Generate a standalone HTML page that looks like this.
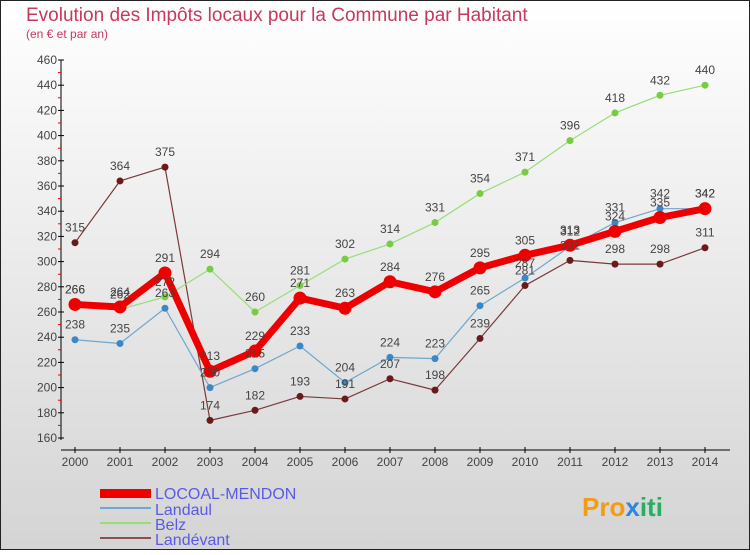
<!DOCTYPE html>
<html><head><meta charset="utf-8"><style>
body{margin:0;}
svg text{font-family:"Liberation Sans","DejaVu Sans",sans-serif;}
</style></head><body>
<svg width="750" height="550" xmlns="http://www.w3.org/2000/svg">
<defs><linearGradient id="bg" x1="0" y1="0" x2="0" y2="1"><stop offset="0" stop-color="#ffffff"/><stop offset="1" stop-color="#d4d4d4"/></linearGradient></defs>
<rect x="0.5" y="0.5" width="749" height="549" fill="url(#bg)" stroke="#222" stroke-width="1"/>
<text x="26" y="21" font-size="19" fill="#c8385c">Evolution des Impôts locaux pour la Commune par Habitant</text>
<text x="26" y="38" font-size="12" fill="#c8385c">(en € et par an)</text>
<g id="axes"></g><g id="series"></g><g id="labels"></g>
<g>
<rect x="100" y="489" width="51" height="9" fill="#e00"/>
<line x1="100" y1="508" x2="151" y2="508" stroke="#6fa7d0" stroke-width="2"/>
<line x1="100" y1="523" x2="151" y2="523" stroke="#99dd77" stroke-width="2"/>
<line x1="100" y1="538" x2="151" y2="538" stroke="#8a5050" stroke-width="2"/>
<text x="155" y="499" font-size="16" fill="#5a5ae8">LOCOAL-MENDON</text>
<text x="155" y="515" font-size="16" fill="#5a5ae8">Landaul</text>
<text x="155" y="530" font-size="16" fill="#5a5ae8">Belz</text>
<text x="155" y="545" font-size="16" fill="#5a5ae8">Landévant</text>
</g>
<g><text x="582" y="516" font-size="26" font-weight="bold" fill="#f39c12">Pro<tspan fill="#2e86de">x</tspan><tspan fill="#27ae60">iti</tspan></text></g>
</svg>
<script>
const years=[2000,2001,2002,2003,2004,2005,2006,2007,2008,2009,2010,2011,2012,2013,2014];
const locoal=[266,264,291,213,229,271,263,284,276,295,305,313,324,335,342];
const landaul=[238,235,263,200,215,233,204,224,223,265,287,312,331,342,342];
const belz=[266,262,272,294,260,281,302,314,331,354,371,396,418,432,440];
const landevant=[315,364,375,174,182,193,191,207,198,239,281,301,298,298,311];
const yTicks=[160,180,200,220,240,260,280,300,320,340,360,380,400,420,440,460];
const NS="http://www.w3.org/2000/svg";
const X=i=>75+i*45, Y=v=>438-(v-160)*1.26;
function mk(t,a,p){const e=document.createElementNS(NS,t);for(const k in a)e.setAttribute(k,a[k]);p.appendChild(e);return e;}
const ax=document.getElementById('axes');
mk('line',{x1:61,y1:60,x2:61,y2:440,stroke:'#000'},ax);
mk('line',{x1:61,y1:450,x2:730,y2:450,stroke:'#000'},ax);
yTicks.forEach(v=>{
 mk('line',{x1:58,y1:Y(v),x2:64,y2:Y(v),stroke:'#000'},ax);
 if(v<460)mk('line',{x1:58,y1:Y(v+10),x2:61,y2:Y(v+10),stroke:'#e00'},ax);
 const t=mk('text',{x:57,y:Y(v)+4,'font-size':12,fill:'#444','text-anchor':'end'},ax);
 
 
 t.textContent=v;
});
years.forEach((yr,i)=>{
 mk('line',{x1:X(i),y1:447,x2:X(i),y2:453,stroke:'#000'},ax);
 const t=mk('text',{x:X(i),y:466,'font-size':12,fill:'#444','text-anchor':'middle'},ax);
 
 
 t.textContent=yr;
});
const sg=document.getElementById('series'),lg=document.getElementById('labels');
const series=[
 {n:'landevant',d:landevant,c:'#7a3a3a',w:1.2,r:3.5,f:'#6a1a1a'},
 {n:'belz',d:belz,c:'#99dd77',w:1.2,r:3.5,f:'#77cc44'},
 {n:'landaul',d:landaul,c:'#6fa7d0',w:1.2,r:3.5,f:'#3a88c8'},
 {n:'locoal-mendon',d:locoal,c:'#ee0000',w:7,r:6.5,f:'#ee0000'}];
series.forEach(s=>{
 const p=mk('polyline',{points:s.d.map((v,i)=>X(i)+','+Y(v)).join(' '),fill:'none',stroke:s.c,'stroke-width':s.w,'stroke-linejoin':'round'},sg);
 
 
 s.d.forEach((v,i)=>{
  const c=mk('circle',{cx:X(i),cy:Y(v),r:s.r,fill:s.f},sg);
  
  
  const t=mk('text',{x:X(i),y:Y(v)-11,'font-size':12,fill:'#444','text-anchor':'middle'},lg);
  
  
  t.textContent=v;
 });
});
</script>
</body></html>
